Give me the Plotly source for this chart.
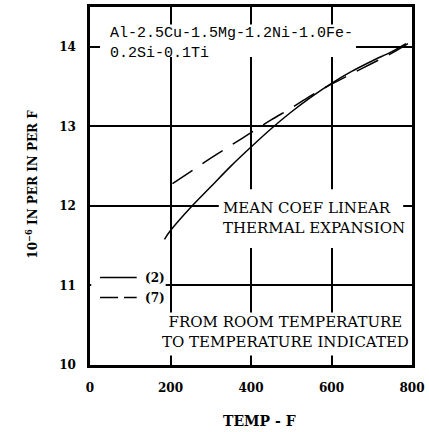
import plotly.graph_objects as go

# Data
solid_temp = [185, 200, 250, 300, 350, 400, 450, 500, 550, 600, 650, 700, 750, 785]
solid_coef = [11.58, 11.69, 11.98, 12.24, 12.5, 12.74, 12.97, 13.18, 13.37, 13.54, 13.69, 13.82, 13.94, 14.04]
dashed_temp = [205, 250, 300, 350, 400, 450, 500, 550, 600, 650, 700, 750, 790]
dashed_coef = [12.28, 12.43, 12.6, 12.76, 12.92, 13.08, 13.23, 13.39, 13.53, 13.66, 13.79, 13.92, 14.04]

x_ticks = [0, 200, 400, 600, 800]
y_ticks = [10, 11, 12, 13, 14]

legend_x = [25, 116]
legend_solid_y = 11.1
legend_dashed_y = 10.85

SERIF = "DejaVu Serif"
MONO = "Liberation Mono"

fig = go.Figure()

# white boxes hiding the grid under the labels (above grid, below traces)
boxes = [
    (25, 661, 13.87, 14.28),     # alloy text
    (320, 778, 11.47, 12.21),    # mean coef
    (168, 797, 10.12, 10.66),    # from room temp
    (3, 188, 10.75, 11.25),      # legend
]
shapes = []
for x0, x1, y0, y1 in boxes:
    shapes.append(dict(type="rect", xref="x", yref="y", x0=x0, x1=x1, y0=y0, y1=y1,
                       fillcolor="white", line=dict(width=0), layer="between"))

fig.add_trace(go.Scatter(x=solid_temp, y=solid_coef, mode="lines",
                         line=dict(color="black", width=1.5), line_shape="spline", showlegend=False))
fig.add_trace(go.Scatter(x=dashed_temp, y=dashed_coef, mode="lines",
                         line=dict(color="black", width=1.5, dash="24px,12px"), line_shape="spline", showlegend=False))
fig.add_trace(go.Scatter(x=legend_x, y=[legend_solid_y] * 2, mode="lines",
                         line=dict(color="black", width=1.5), showlegend=False))
fig.add_trace(go.Scatter(x=legend_x, y=[legend_dashed_y] * 2, mode="lines",
                         line=dict(color="black", width=1.5, dash="18px,6px"), showlegend=False))


def px_x(p):
    return (p - 90) / 323.0


def px_y(p):
    return (365 - p) / 361.0


annotations = [
    dict(xref="paper", yref="paper", x=px_x(108), y=px_y(31), xanchor="left", yanchor="middle",
         text="Al-2.5Cu-1.5Mg-1.2Ni-1.0Fe-", align="left", showarrow=False,
         font=dict(family=MONO, size=15, color="black")),
    dict(xref="paper", yref="paper", x=px_x(108), y=px_y(51), xanchor="left", yanchor="middle",
         text="0.2Si-0.1Ti", align="left", showarrow=False,
         font=dict(family=MONO, size=15, color="black")),
    dict(xref="paper", yref="paper", x=px_x(221), y=px_y(217), xanchor="left", yanchor="middle",
         text="MEAN COEF LINEAR<br>THERMAL EXPANSION", align="left", showarrow=False,
         font=dict(family=SERIF, size=15, color="black")),
    dict(xref="paper", yref="paper", x=px_x(286), y=px_y(332), xanchor="center", yanchor="middle",
         text="FROM ROOM TEMPERATURE<br>TO TEMPERATURE INDICATED", align="center", showarrow=False,
         font=dict(family=SERIF, size=15, color="black")),
    dict(xref="paper", yref="paper", x=px_x(143), y=px_y(277), xanchor="left", yanchor="middle",
         text="(2)", showarrow=False, font=dict(family=SERIF, size=12, color="black", weight="bold")),
    dict(xref="paper", yref="paper", x=px_x(143), y=px_y(297), xanchor="left", yanchor="middle",
         text="(7)", showarrow=False, font=dict(family=SERIF, size=12, color="black", weight="bold")),
    dict(xref="paper", yref="paper", x=px_x(260), y=px_y(421), xanchor="center", yanchor="middle",
         text="TEMP - F", showarrow=False, font=dict(family=SERIF, size=14, color="black", weight="bold")),
    dict(xref="paper", yref="paper", x=px_x(31), y=px_y(183), xanchor="center", yanchor="middle",
         text="10<sup>−6</sup> IN PER IN PER F", textangle=-90, showarrow=False,
         font=dict(family=SERIF, size=12, color="black", weight="bold")),
]

fig.update_layout(
    width=429, height=432,
    margin=dict(l=90, r=16, t=4, b=67),
    plot_bgcolor="white", paper_bgcolor="white",
    showlegend=False,
    shapes=shapes,
    annotations=annotations,
    xaxis=dict(range=[0, 800], tickvals=x_ticks, showgrid=True, gridcolor="black", gridwidth=1.5,
               zeroline=False, showline=True, linecolor="black", linewidth=2.5, mirror=True,
               ticks="", ticklabelstandoff=10,
               tickfont=dict(family=SERIF, size=12, color="black", weight="bold")),
    yaxis=dict(range=[10, 14.5], tickvals=y_ticks, showgrid=True, gridcolor="black", gridwidth=1.5,
               zeroline=False, showline=True, linecolor="black", linewidth=2.5, mirror=True,
               ticks="", ticklabelstandoff=9,
               tickfont=dict(family=SERIF, size=12, color="black", weight="bold")),
)

fig.write_html("out.html")
